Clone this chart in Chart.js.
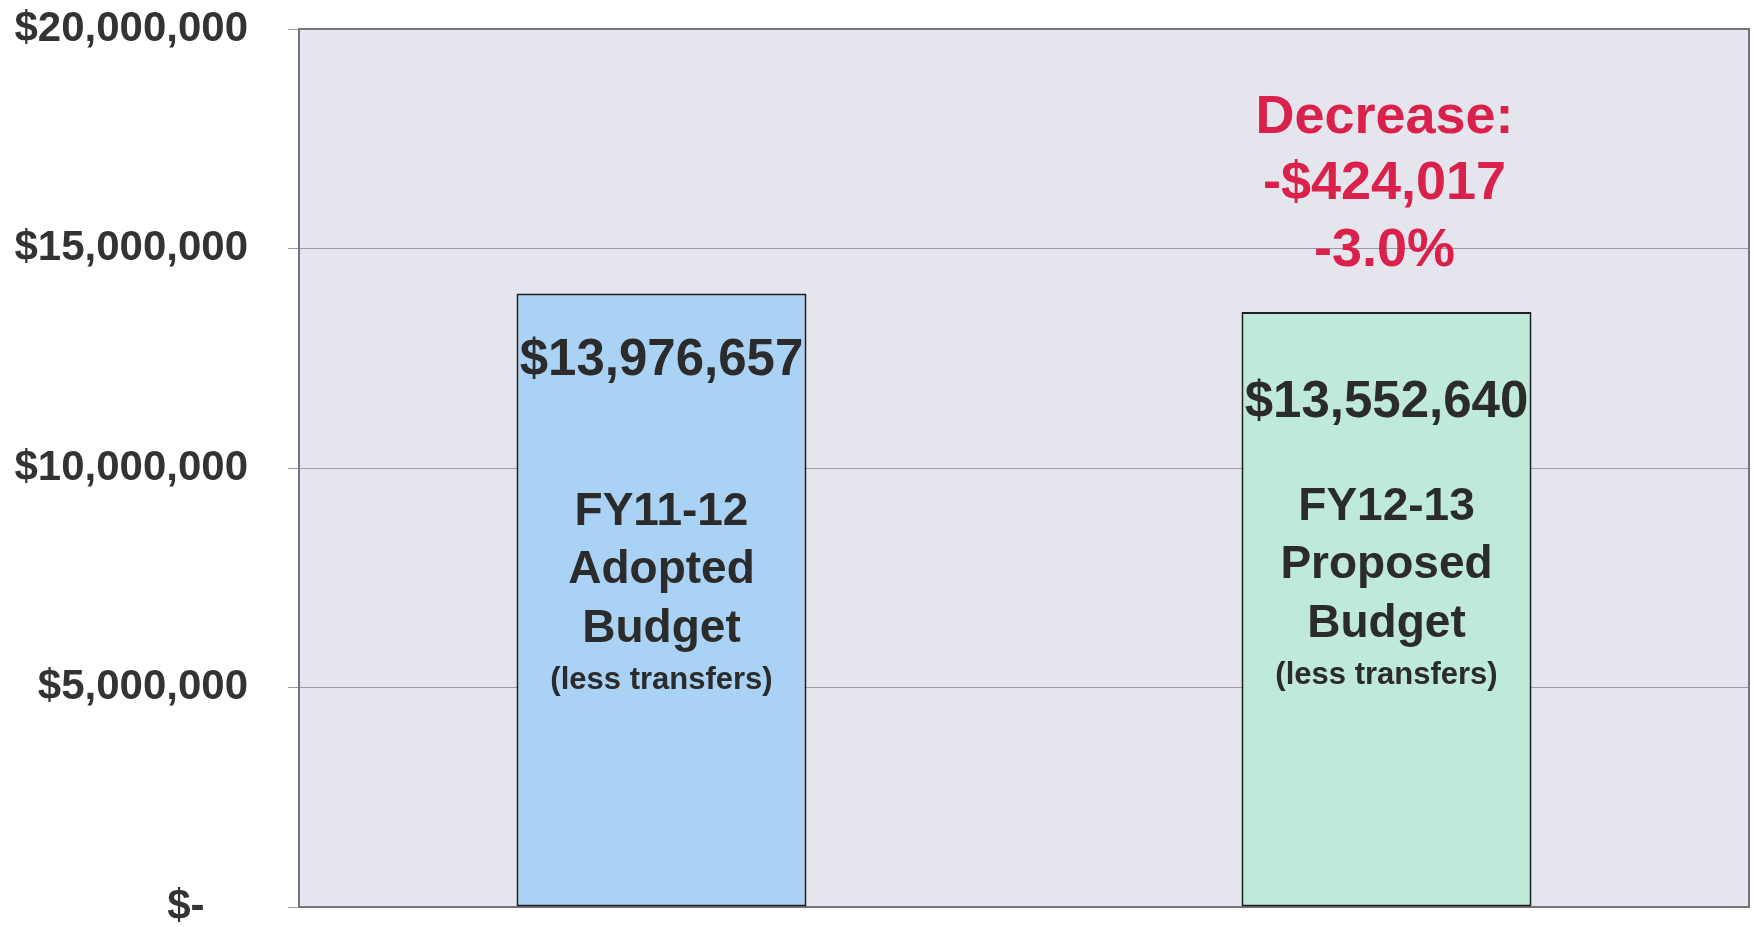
<!DOCTYPE html>
<html lang="en">
<head>
<meta charset="UTF-8">
<title>Budget Comparison</title>
<style>
  html, body { margin: 0; padding: 0; background: #ffffff; }
  .chart-box { width: 1754px; height: 927px; position: relative; }
</style>
<script src="https://cdn.jsdelivr.net/npm/chart.js"></script>
</head>
<body>

<div class="chart-box">
  <canvas id="budgetChart"></canvas>
</div>

<script>
// chart data
const categories = ['FY11-12 Adopted Budget', 'FY12-13 Proposed Budget'];
const budgetValues = [13976657, 13552640];
const barLines = [
  ['FY11-12', 'Adopted', 'Budget', '(less transfers)'],
  ['FY12-13', 'Proposed', 'Budget', '(less transfers)']
];
const changeLines = ['Decrease:', '-$424,017', '-3.0%'];
const yTicks = [0, 5000000, 10000000, 15000000, 20000000];

const textColor = '#2b2b2b';
const redColor = '#d9214b';
const fontFamily = '"Liberation Sans", Arial, sans-serif';

function money(v) {
  if (v === 0) return '$-   \u2009';
  return '$' + v.toLocaleString('en-US');
}

// plot background + frame
const plotFrame = {
  id: 'plotFrame',
  beforeDraw(chart) {
    const { ctx, chartArea: a } = chart;
    ctx.save();
    ctx.fillStyle = '#e5e5ed';
    ctx.fillRect(a.left, a.top, a.right - a.left, a.bottom - a.top);
    ctx.restore();
  },
  beforeDatasetsDraw(chart) {
    const { ctx, chartArea: a } = chart;
    ctx.save();
    ctx.strokeStyle = '#74747a';
    ctx.lineWidth = 2;
    ctx.strokeRect(a.left, a.top, a.right - a.left, a.bottom - a.top);
    ctx.restore();
  }
};

// text inside and above bars
const barText = {
  id: 'barText',
  afterDatasetsDraw(chart) {
    const { ctx } = chart;
    const bars = chart.getDatasetMeta(0).data;
    const valueOffset = [68, 91];
    const blockTop = [219, 195];
    const lineSteps = [0, 58, 117, 168];
    ctx.save();
    ctx.textAlign = 'center';
    ctx.textBaseline = 'middle';
    bars.forEach((bar, i) => {
      ctx.fillStyle = textColor;
      ctx.font = 'bold 51px ' + fontFamily;
      ctx.fillText(money(budgetValues[i]), bar.x, bar.y + valueOffset[i]);
      barLines[i].forEach((line, j) => {
        ctx.font = (j === 3 ? 'bold 31px ' : 'bold 46px ') + fontFamily;
        ctx.fillText(line, bar.x, bar.y + blockTop[i] + lineSteps[j]);
      });
    });
    // change note above second bar
    const last = bars[bars.length - 1];
    ctx.fillStyle = redColor;
    ctx.font = 'bold 54px ' + fontFamily;
    changeLines.forEach((line, j) => {
      ctx.fillText(line, last.x - 2, 118 + j * 66.5);
    });
    ctx.restore();
  }
};

const ctx = document.getElementById('budgetChart').getContext('2d');
new Chart(ctx, {
  type: 'bar',
  data: {
    labels: categories,
    datasets: [{
      data: budgetValues,
      backgroundColor: ['#aad2f5', '#bfe9db'],
      borderColor: '#1f1f1f',
      borderWidth: 2,
      borderSkipped: false,
      barPercentage: 0.4,
      categoryPercentage: 1.0
    }]
  },
  options: {
    responsive: true,
    maintainAspectRatio: false,
    animation: false,
    layout: { padding: { top: 29, right: 5, bottom: 20, left: 0 } },
    plugins: {
      legend: { display: false },
      tooltip: { enabled: false }
    },
    scales: {
      x: { display: false },
      y: {
        min: 0,
        max: 20000000,
        afterFit(scale) {
          scale.width = 299;
          scale.paddingTop = 0;
          scale.paddingBottom = 0;
        },
        afterBuildTicks(scale) { scale.ticks = yTicks.map(v => ({ value: v })); },
        border: { display: false },
        grid: {
          color: '#9b9ba0',
          lineWidth: 1,
          tickLength: 11,
          drawTicks: true
        },
        ticks: {
          padding: 40,
          color: '#333333',
          font: { family: fontFamily, size: 42, weight: 'bold', lineHeight: 1 },
          callback: v => money(v)
        }
      }
    }
  },
  plugins: [plotFrame, barText]
});
</script>

</body>
</html>
